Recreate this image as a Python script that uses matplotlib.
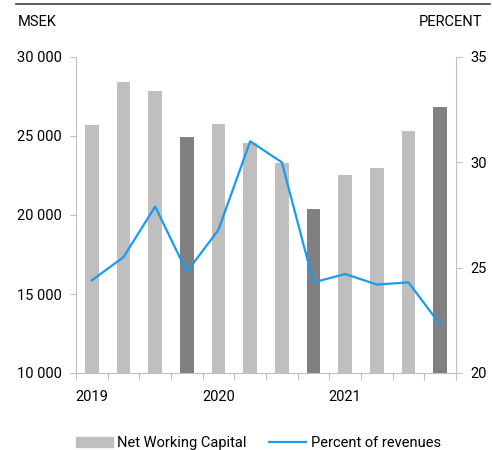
import matplotlib
matplotlib.use("Agg")
import matplotlib.pyplot as plt
from matplotlib.lines import Line2D
from matplotlib.patches import Patch
import numpy as np

plt.rcParams['font.family'] = ['Roboto', 'DejaVu Sans']

quarters = ["Q1 2019", "Q2 2019", "Q3 2019", "Q4 2019",
            "Q1 2020", "Q2 2020", "Q3 2020", "Q4 2020",
            "Q1 2021", "Q2 2021", "Q3 2021", "Q4 2021"]
nwc = [25700, 28400, 27850, 24950, 25750, 24550, 23300, 20400, 22530, 22980, 25320, 26830]
pct = [24.4, 25.5, 27.9, 24.8, 26.8, 31.0, 30.0, 24.3, 24.7, 24.2, 24.3, 22.3]
highlight = [False, False, False, True, False, False, False, True, False, False, False, True]
year_labels = ["2019", "2020", "2021"]
year_pos = [0, 4, 8]
left_ticks = [10000, 15000, 20000, 25000, 30000]
right_ticks = [20, 25, 30, 35]

light = "#BFBFBF"
dark = "#808080"
blue = "#1A9BF0"
spine = "#BFBFBF"

fig = plt.figure(figsize=(4.92, 4.5), dpi=100)
ax = fig.add_axes([76/492, 1-373/450, (456-76)/492, (373-57)/450])
x = np.arange(len(quarters))
colors = [dark if h else light for h in highlight]
ax.bar(x, nwc, width=0.44, color=colors, zorder=2)
ax.set_ylim(10000, 30000)
ax.set_xlim(-0.5, len(quarters) - 0.5)
ax.set_yticks(left_ticks)
ax.set_yticklabels([f"{v:,}".replace(",", " ") for v in left_ticks], fontsize=10.5)
ax.set_xticks(np.arange(-0.5, len(quarters) + 0.5, 1))
ax.set_xticklabels([])
ax.tick_params(axis='x', length=5, color=spine, direction='out')
ax.tick_params(axis='y', length=4, color=spine, direction='out', pad=6)
for yp, lab in zip(year_pos, year_labels):
    ax.text(yp, -0.055, lab, transform=ax.get_xaxis_transform(), ha='center', va='top', fontsize=10.5)
for s in ['top', 'right']:
    ax.spines[s].set_visible(False)
ax.spines['left'].set_color(spine)
ax.spines['bottom'].set_color(spine)

ax2 = ax.twinx()
ax2.plot(x, pct, color=blue, lw=1.6, zorder=3)
ax2.set_ylim(20, 35)
ax2.set_yticks(right_ticks)
ax2.set_yticklabels([str(v) for v in right_ticks], fontsize=10.5)
ax2.tick_params(axis='y', length=4, color=spine, direction='out', pad=6)
for s in ['top', 'left', 'bottom']:
    ax2.spines[s].set_visible(False)
ax2.spines['right'].set_color(spine)

fig.add_artist(Line2D([16/492, 490/492], [1-4/450, 1-4/450], color="#404040", lw=1.2))
fig.text(18/492, 1-22/450, "MSEK", fontsize=10.5, va='center', ha='left')
fig.text(482/492, 1-22/450, "PERCENT", fontsize=10.5, va='center', ha='right')

handles = [Patch(color=light), Line2D([0], [0], color=blue, lw=1.6)]
fig.legend(handles, ["Net Working Capital", "Percent of revenues"],
           loc='center left', bbox_to_anchor=(76/492, 1-443/450), ncol=2, frameon=False,
           fontsize=10.5, handlelength=2.55, handleheight=0.7, columnspacing=1.55,
           handletextpad=0.28, borderpad=0, borderaxespad=0)

fig.savefig("out.png", dpi=100)
